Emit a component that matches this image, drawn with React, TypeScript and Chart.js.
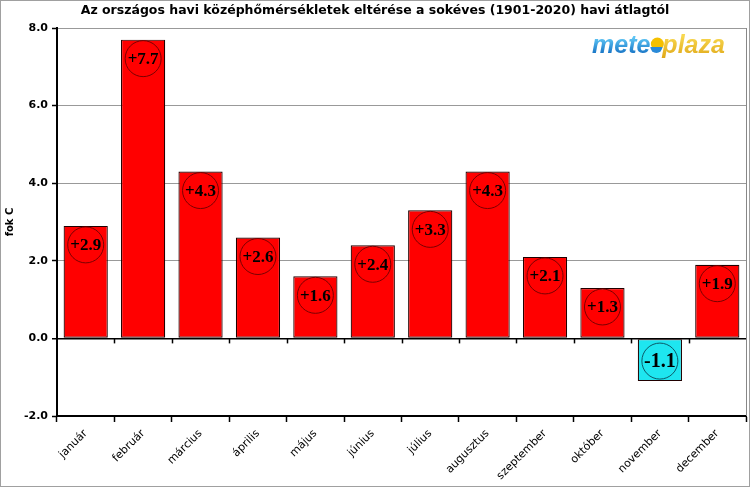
import React, { useEffect, useRef } from "react";
import { Chart, registerables } from "chart.js";

Chart.register(...registerables);

const TITLE = "Az országos havi középhőmérsékletek eltérése a sokéves (1901-2020) havi átlagtól";
const months = ["január", "február", "március", "április", "május", "június", "július", "augusztus", "szeptember", "október", "november", "december"];
const anomalies = [2.9, 7.7, 4.3, 2.6, 1.6, 2.4, 3.3, 4.3, 2.1, 1.3, -1.1, 1.9];
const yTicks = [-2, 0, 2, 4, 6, 8];
const yLabel = "fok C";

const fmt = (v: number) => (v > 0 ? "+" : "") + v.toFixed(1);

const decorPlugin = {
  id: "decor",
  beforeDraw(chart: any) {
    const { ctx, width, height } = chart;
    ctx.save();
    ctx.fillStyle = "#fff";
    ctx.fillRect(0, 0, width, height);
    ctx.restore();
  },
  afterDraw(chart: any) {
    const { ctx, chartArea, width, height } = chart;
    ctx.save();
    // outer border
    ctx.strokeStyle = "#a0a0a0";
    ctx.lineWidth = 1;
    ctx.strokeRect(0.5, 0.5, width - 1, height - 1);
    // right border of plot
    ctx.strokeStyle = "#888";
    ctx.beginPath();
    ctx.moveTo(chartArea.right + 0.5, chartArea.top);
    ctx.lineTo(chartArea.right + 0.5, chartArea.bottom);
    ctx.stroke();
    // small ticks on zero line
    const xs = chart.scales.x;
    const y0 = chart.scales.y.getPixelForValue(0);
    ctx.strokeStyle = "#000";
    ctx.lineWidth = 1.5;
    const n = months.length;
    for (let i = 1; i < n; i++) {
      const x = (xs.getPixelForValue(i - 1) + xs.getPixelForValue(i)) / 2;
      ctx.beginPath();
      ctx.moveTo(Math.round(x) + 0.5, y0);
      ctx.lineTo(Math.round(x) + 0.5, y0 + 5);
      ctx.stroke();
    }
    // title
    ctx.fillStyle = "#000";
    ctx.font = "bold 12.5px 'DejaVu Sans'";
    ctx.textAlign = "center";
    ctx.textBaseline = "middle";
    ctx.fillText(TITLE, 375, 11);
    // logo
    ctx.font = "italic bold 25px 'Liberation Sans'";
    ctx.textAlign = "left";
    ctx.textBaseline = "alphabetic";
    const bx = 592, by = 53;
    const g1 = ctx.createLinearGradient(0, 38, 0, 54);
    g1.addColorStop(0, "#5cc4f4");
    g1.addColorStop(1, "#1672c4");
    ctx.fillStyle = g1;
    ctx.fillText("mete", bx, by);
    const w1 = ctx.measureText("mete").width;
    const ox = bx + w1 + 6;
    const oy = by - 7;
    ctx.fillStyle = "#f5c000";
    ctx.beginPath();
    ctx.arc(ox + 1, oy - 2, 6.5, 0, Math.PI * 2);
    ctx.fill();
    ctx.fillStyle = "#2a8ad8";
    ctx.beginPath();
    ctx.arc(ox, oy + 1, 6, 0, Math.PI);
    ctx.fill();
    const g2 = ctx.createLinearGradient(0, 36, 0, 58);
    g2.addColorStop(0, "#f8d850");
    g2.addColorStop(1, "#e0a818");
    ctx.fillStyle = g2;
    ctx.fillText("plaza", ox + 6, by);
    ctx.restore();
  },
  afterDatasetsDraw(chart: any) {
    const { ctx } = chart;
    const meta = chart.getDatasetMeta(0);
    ctx.save();
    meta.data.forEach((bar: any, i: number) => {
      const v = anomalies[i];
      const cx = bar.x;
      const cy = v >= 0 ? bar.y + 19 : bar.y - 20;
      ctx.beginPath();
      ctx.arc(cx, cy, 18, 0, Math.PI * 2);
      ctx.lineWidth = 1;
      ctx.strokeStyle = v >= 0 ? "#7a0000" : "#0c5a68";
      ctx.stroke();
      ctx.fillStyle = "#000";
      ctx.textAlign = "center";
      ctx.textBaseline = "middle";
      ctx.font = v >= 0 ? "bold 17px 'Liberation Serif'" : "bold 20px 'Liberation Serif'";
      ctx.fillText(fmt(v), cx, cy + 1);
    });
    ctx.restore();
  },
};

export default function App() {
  const ref = useRef<HTMLCanvasElement>(null);
  useEffect(() => {
    document.body.style.margin = "0";
    const chart = new Chart(ref.current!, {
      type: "bar",
      data: {
        labels: months,
        datasets: [
          {
            data: anomalies,
            backgroundColor: anomalies.map((v) => (v >= 0 ? "#ff0000" : "#1ee6f0")),
            borderColor: "#200000",
            borderWidth: 1.2,
            borderSkipped: false,
            barPercentage: 0.77,
            categoryPercentage: 1,
          },
        ],
      },
      options: {
        animation: false,
        responsive: false,
        maintainAspectRatio: false,
        layout: { padding: { top: 28, right: 4, left: 0, bottom: 0 } },
        plugins: { legend: { display: false }, tooltip: { enabled: false }, title: { display: false } },
        scales: {
          y: {
            min: -2,
            max: 8,
            afterBuildTicks: (s: any) => {
              s.ticks = yTicks.map((v) => ({ value: v }));
            },
            afterFit: (s: any) => {
              s.width = 57;
            },
            ticks: {
              color: "#000",
              font: { family: "'DejaVu Sans'", size: 11, weight: "bold" },
              padding: 4,
              callback: (v: any) => Number(v).toFixed(1),
            },
            grid: {
              color: (c: any) => (c.tick && c.tick.value === 0 ? "#000" : "#999"),
              lineWidth: (c: any) => (c.tick && c.tick.value === 0 ? 1.5 : 1),
              tickColor: "#000",
              tickLength: 5,
              tickWidth: 1.5,
            },
            border: { display: true, color: "#000", width: 2 },
            title: {
              display: true,
              text: yLabel,
              color: "#000",
              font: { family: "'DejaVu Sans'", size: 10, weight: "bold" },
              padding: { top: 4, bottom: 0 },
            },
          },
          x: {
            afterFit: (s: any) => {
              s.height = 71;
            },
            ticks: {
              color: "#000",
              font: { family: "'DejaVu Sans'", size: 11 },
              minRotation: 45,
              maxRotation: 45,
              padding: 5,
              autoSkip: false,
            },
            grid: {
              offset: true,
              drawOnChartArea: false,
              drawTicks: true,
              tickLength: 6,
              tickColor: "#000",
              tickWidth: 1.5,
            },
            border: { display: true, color: "#000", width: 2 },
          },
        },
      },
      plugins: [decorPlugin],
    });
    return () => chart.destroy();
  }, []);
  return <canvas ref={ref} width={750} height={487} style={{ display: "block" }} />;
}
